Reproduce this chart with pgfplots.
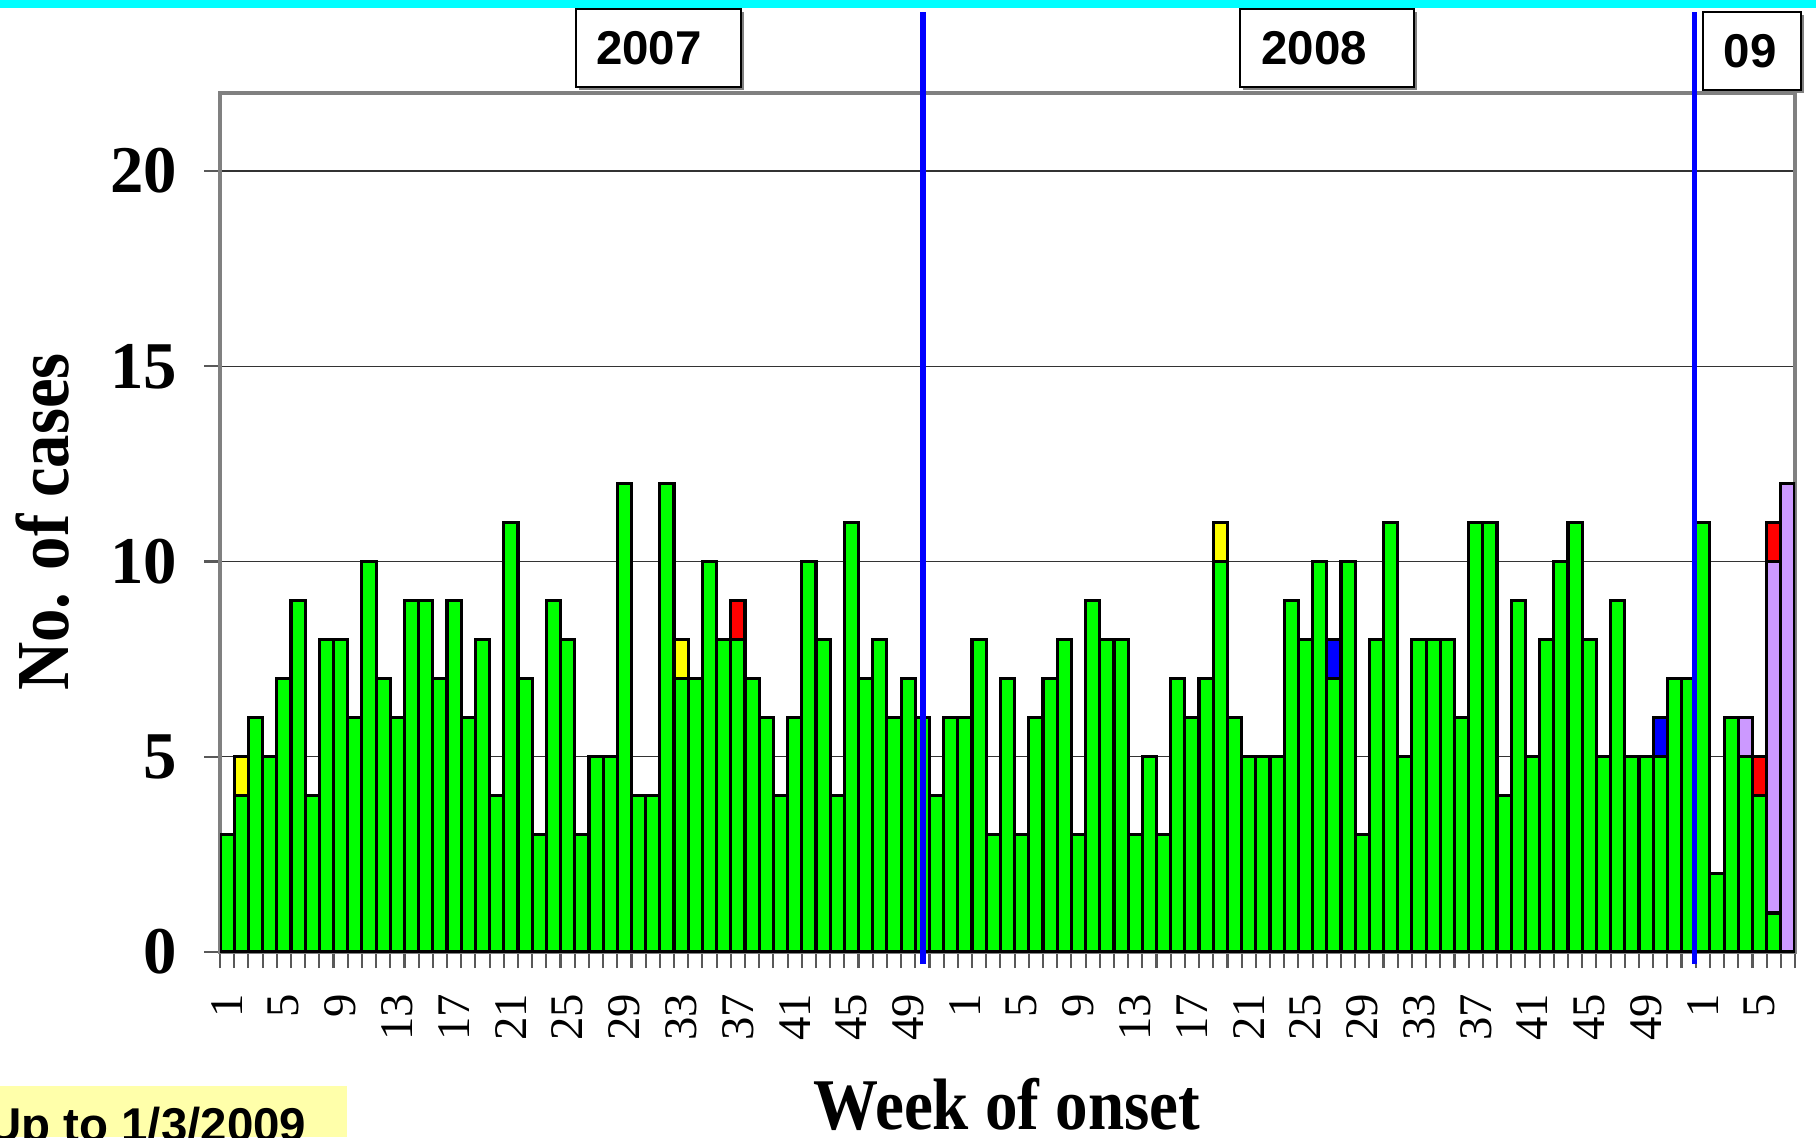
\documentclass[border=0pt]{standalone}
\usepackage{pgfplots}
\pgfplotsset{compat=1.18}
\usepackage{pgfplotstable}
\usepackage{graphicx}
\usepackage{fontspec}
\setmainfont{Liberation Serif}
\newfontfamily\arialfont{Liberation Sans}
\definecolor{bargreen}{RGB}{0,255,0}
\definecolor{barpurple}{RGB}{204,153,255}
\definecolor{barred}{RGB}{255,0,0}
\definecolor{barblue}{RGB}{0,0,255}
\definecolor{baryellow}{RGB}{255,255,0}
\definecolor{boxyellow}{RGB}{255,255,170}
\definecolor{topcyan}{RGB}{0,255,255}

% idx 0-51: 2007 weeks 1-52; 52-103: 2008 weeks 1-52; 104-110: 2009 weeks 1-7
\pgfplotstableread{
idx g p r b y
0 3 0 0 0 0
1 4 0 0 0 1
2 6 0 0 0 0
3 5 0 0 0 0
4 7 0 0 0 0
5 9 0 0 0 0
6 4 0 0 0 0
7 8 0 0 0 0
8 8 0 0 0 0
9 6 0 0 0 0
10 10 0 0 0 0
11 7 0 0 0 0
12 6 0 0 0 0
13 9 0 0 0 0
14 9 0 0 0 0
15 7 0 0 0 0
16 9 0 0 0 0
17 6 0 0 0 0
18 8 0 0 0 0
19 4 0 0 0 0
20 11 0 0 0 0
21 7 0 0 0 0
22 3 0 0 0 0
23 9 0 0 0 0
24 8 0 0 0 0
25 3 0 0 0 0
26 5 0 0 0 0
27 5 0 0 0 0
28 12 0 0 0 0
29 4 0 0 0 0
30 4 0 0 0 0
31 12 0 0 0 0
32 7 0 0 0 1
33 7 0 0 0 0
34 10 0 0 0 0
35 8 0 0 0 0
36 8 0 1 0 0
37 7 0 0 0 0
38 6 0 0 0 0
39 4 0 0 0 0
40 6 0 0 0 0
41 10 0 0 0 0
42 8 0 0 0 0
43 4 0 0 0 0
44 11 0 0 0 0
45 7 0 0 0 0
46 8 0 0 0 0
47 6 0 0 0 0
48 7 0 0 0 0
49 6 0 0 0 0
50 4 0 0 0 0
51 6 0 0 0 0
52 6 0 0 0 0
53 8 0 0 0 0
54 3 0 0 0 0
55 7 0 0 0 0
56 3 0 0 0 0
57 6 0 0 0 0
58 7 0 0 0 0
59 8 0 0 0 0
60 3 0 0 0 0
61 9 0 0 0 0
62 8 0 0 0 0
63 8 0 0 0 0
64 3 0 0 0 0
65 5 0 0 0 0
66 3 0 0 0 0
67 7 0 0 0 0
68 6 0 0 0 0
69 7 0 0 0 0
70 10 0 0 0 1
71 6 0 0 0 0
72 5 0 0 0 0
73 5 0 0 0 0
74 5 0 0 0 0
75 9 0 0 0 0
76 8 0 0 0 0
77 10 0 0 0 0
78 7 0 0 1 0
79 10 0 0 0 0
80 3 0 0 0 0
81 8 0 0 0 0
82 11 0 0 0 0
83 5 0 0 0 0
84 8 0 0 0 0
85 8 0 0 0 0
86 8 0 0 0 0
87 6 0 0 0 0
88 11 0 0 0 0
89 11 0 0 0 0
90 4 0 0 0 0
91 9 0 0 0 0
92 5 0 0 0 0
93 8 0 0 0 0
94 10 0 0 0 0
95 11 0 0 0 0
96 8 0 0 0 0
97 5 0 0 0 0
98 9 0 0 0 0
99 5 0 0 0 0
100 5 0 0 0 0
101 5 0 0 1 0
102 7 0 0 0 0
103 7 0 0 0 0
104 11 0 0 0 0
105 2 0 0 0 0
106 6 0 0 0 0
107 5 1 0 0 0
108 4 0 1 0 0
109 1 9 1 0 0
110 0 12 0 0 0
}\weekdata

\begin{document}
\begin{tikzpicture}
\path[use as bounding box, clip] (0,0) rectangle (18.16,11.37);
\fill[topcyan] (0,11.285) rectangle (18.16,11.37);
\begin{axis}[
  at={(2.20cm,1.85cm)}, anchor=south west,
  scale only axis, width=15.75cm, height=8.59cm,
  ybar stacked, bar width=1,
  xmin=-0.5, xmax=110.5, ymin=0, ymax=22,
  xtick={0,4,...,108},
  xticklabels={1,5,9,13,17,21,25,29,33,37,41,45,49,1,5,9,13,17,21,25,29,33,37,41,45,49,1,5},
  minor xtick={-0.5,0.5,...,110.5},
  ytick={0,5,10,15,20},
  minor ytick={0,5,10,15,20},
  tick pos=left,
  major tick length=0pt, minor tick length=1.6mm,
  tick align=outside,
  tick style={draw=gray!70!black, line width=0.6pt},
  ymajorgrids, major grid style={draw=black!80, line width=0.35pt},
  axis line style={draw=gray, line width=1.2pt},
  xticklabel style={font=\fontsize{13.3}{14}\selectfont, inner sep=0pt, yshift=-4.1mm, rotate=90, anchor=east},
  yticklabel style={font=\bfseries\fontsize{19}{21}\selectfont, inner sep=0pt, anchor=east, xshift=-4.2mm},
  /pgf/number format/assume math mode=true,
  every axis plot/.append style={draw=black, line width=0.9pt},
]
\addplot[fill=bargreen] table[x=idx,y=g]{\weekdata};
\addplot[fill=barpurple] table[x=idx,y=p]{\weekdata};
\addplot[fill=barred] table[x=idx,y=r]{\weekdata};
\addplot[fill=barblue] table[x=idx,y=b]{\weekdata};
\addplot[fill=baryellow] table[x=idx,y=y]{\weekdata};
\end{axis}
% year separators
\draw[barblue, line width=1.6pt] (9.23,1.73) -- (9.23,11.25);
\draw[barblue, line width=1.6pt] (16.945,1.73) -- (16.945,11.25);
% year boxes
\fill[gray] (5.79,10.47) rectangle (7.44,11.25);
\draw[fill=white, line width=0.8pt] (5.76,10.50) rectangle (7.41,11.28);
\node[font=\arialfont\bfseries\fontsize{13.5}{15}\selectfont] at (6.49,10.89) {2007};
\fill[gray] (12.43,10.47) rectangle (14.17,11.25);
\draw[fill=white, line width=0.8pt] (12.40,10.50) rectangle (14.14,11.28);
\node[font=\arialfont\bfseries\fontsize{13.5}{15}\selectfont] at (13.14,10.89) {2008};
\fill[gray] (17.06,10.44) rectangle (18.04,11.22);
\draw[fill=white, line width=0.8pt] (17.03,10.47) rectangle (18.01,11.25);
\node[font=\arialfont\bfseries\fontsize{13.5}{15}\selectfont] at (17.50,10.86) {09};
% labels
\node[rotate=90, inner sep=0pt, font=\bfseries\fontsize{19}{21}\selectfont] at (0.43,6.15) {\scalebox{1}[1.12]{No. of cases}};
\node[anchor=base, inner sep=0pt, font=\bfseries\fontsize{18.5}{20}\selectfont] at (10.07,0.08) {\scalebox{1}[1.12]{Week of onset}};
% note box
\fill[boxyellow] (0,0) rectangle (3.474,0.507);
\node[anchor=base east, inner sep=0pt, font=\arialfont\bfseries\fontsize{13.5}{15}\selectfont] at (3.07,-0.04) {Up to 1/3/2009};
\end{tikzpicture}
\end{document}
